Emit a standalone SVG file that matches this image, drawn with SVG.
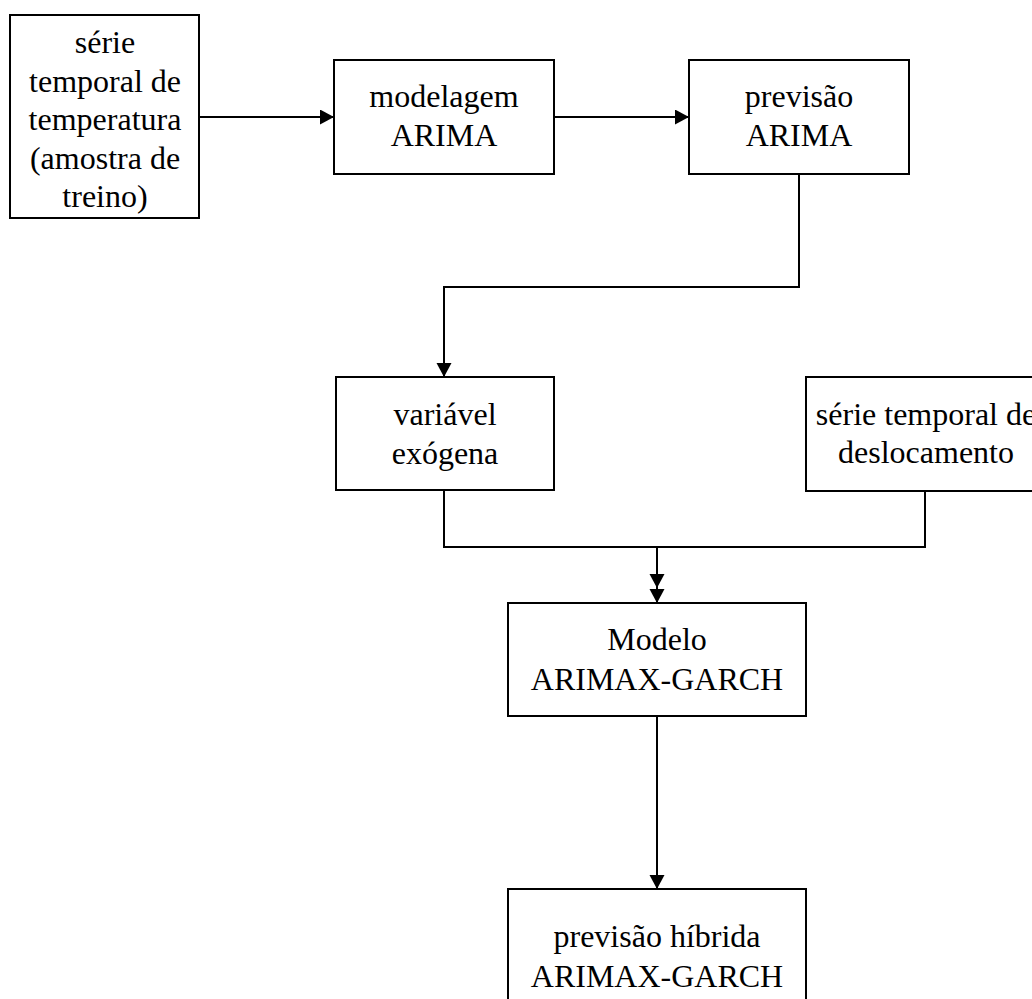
<svg xmlns="http://www.w3.org/2000/svg" width="1032" height="999" viewBox="0 0 1032 999">
<style>
.box{fill:#fff;stroke:#000;stroke-width:2}
.t{font-family:"Liberation Serif","Times New Roman",serif;font-size:32px;fill:#000;text-anchor:middle}
.c{fill:none;stroke:#000;stroke-width:2}
</style>
<defs>
<marker id="ah" markerUnits="userSpaceOnUse" markerWidth="16" markerHeight="16" refX="14" refY="7.5" orient="auto">
<path d="M0,0 L14,7.5 L0,15 Z" fill="#000"/>
</marker>
</defs>
<rect width="1032" height="999" fill="#fff"/>
<g id="connectors">
<path class="c" d="M200,117 H334" marker-end="url(#ah)"/>
<path class="c" d="M554,117 H689" marker-end="url(#ah)"/>
<path class="c" d="M799,174 V287 H444 V377" marker-end="url(#ah)"/>
<path class="c" d="M444,490 V547 H657 V603" marker-end="url(#ah)"/>
<path class="c" d="M925,491 V547 H657 V588" marker-end="url(#ah)"/>
<path class="c" d="M657,716 V889" marker-end="url(#ah)"/>
</g>
<g id="n1">
<rect class="box" x="10" y="15" width="189" height="203"/>
<text class="t" x="105" y="53">série</text>
<text class="t" x="105" y="92">temporal de</text>
<text class="t" x="105" y="130">temperatura</text>
<text class="t" x="105" y="169">(amostra de</text>
<text class="t" x="105" y="207">treino)</text>
</g>
<g id="n2">
<rect class="box" x="334" y="60" width="220" height="114"/>
<text class="t" x="444" y="107">modelagem</text>
<text class="t" x="444" y="146">ARIMA</text>
</g>
<g id="n3">
<rect class="box" x="689" y="60" width="220" height="114"/>
<text class="t" x="799" y="107">previsão</text>
<text class="t" x="799" y="146">ARIMA</text>
</g>
<g id="n4">
<rect class="box" x="336" y="377" width="218" height="113"/>
<text class="t" x="445" y="425">variável</text>
<text class="t" x="445" y="464">exógena</text>
</g>
<g id="n5">
<rect class="box" x="806" y="377" width="240" height="114"/>
<text class="t" x="926" y="425">série temporal de</text>
<text class="t" x="926" y="463">deslocamento</text>
</g>
<g id="n6">
<rect class="box" x="508" y="603" width="298" height="113"/>
<text class="t" x="657" y="650">Modelo</text>
<text class="t" x="657" y="690">ARIMAX-GARCH</text>
</g>
<g id="n7">
<rect class="box" x="508" y="889" width="298" height="130"/>
<text class="t" x="657" y="947">previsão híbrida</text>
<text class="t" x="657" y="987">ARIMAX-GARCH</text>
</g>
</svg>
